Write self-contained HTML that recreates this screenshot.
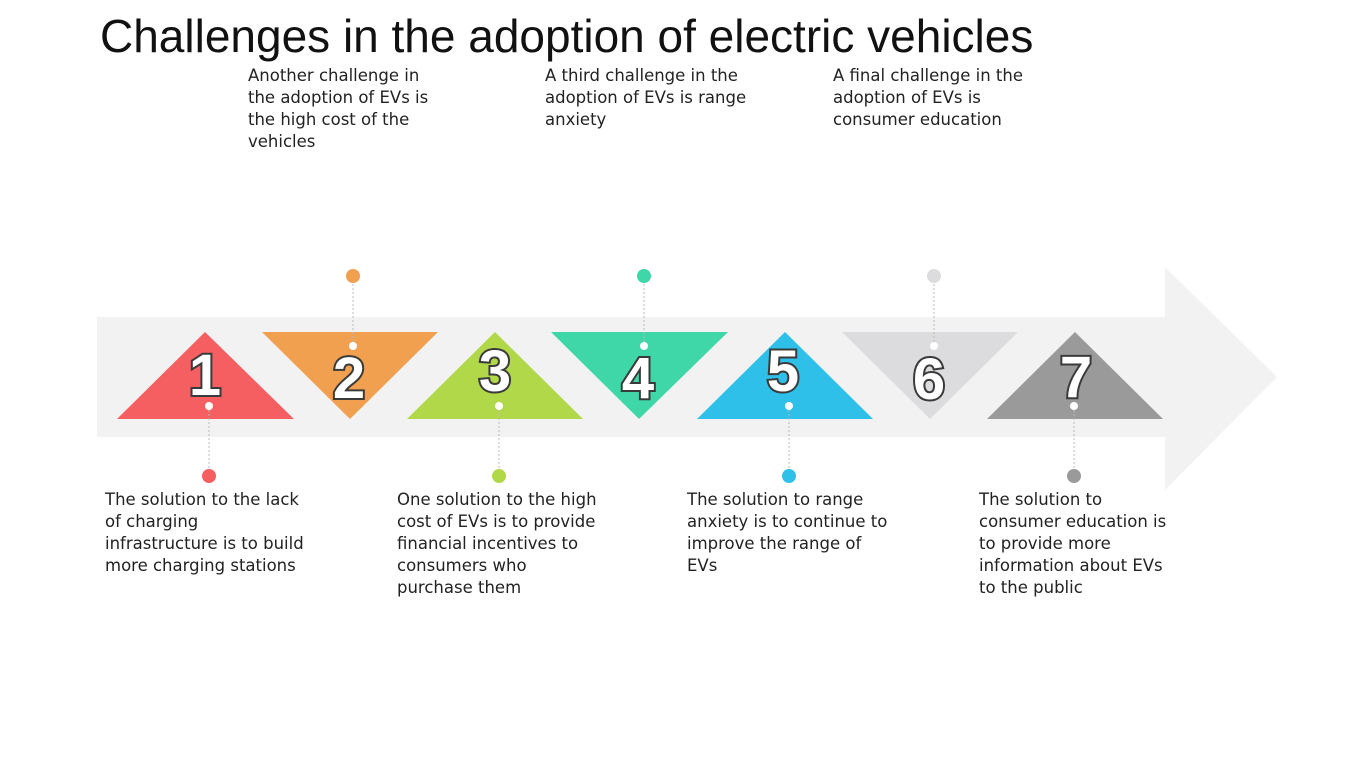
<!DOCTYPE html>
<html><head><style>
body{margin:0;width:1350px;height:759px;background:#fff;position:relative;overflow:hidden;font-family:"Liberation Sans",sans-serif}
.t{position:absolute;left:100px;top:9px;font-size:46px;color:#111;white-space:nowrap}
.p{position:absolute;font-family:"DejaVu Sans","Liberation Sans",sans-serif;font-size:16.5px;line-height:22px;color:#222;white-space:nowrap}
</style></head><body>
<div class="t">Challenges in the adoption of electric vehicles</div>
<svg width="1350" height="759" style="position:absolute;left:0;top:0">
<polygon points="97,317 1165,317 1165,267 1277,377 1165,490 1165,437 97,437" fill="#f2f2f2"/>
<polygon points="117,419 205,332 294,419" fill="#f65f61"/>
<polygon points="262,332 438,332 350,419" fill="#f0a04f"/>
<polygon points="407,419 495,332 583,419" fill="#b1d848"/>
<polygon points="551,332 728,332 639,419" fill="#3fd7a8"/>
<polygon points="697,419 785,332 873,419" fill="#2fc0ea"/>
<polygon points="842,332 1018,332 930,419" fill="#dcdcdf"/>
<polygon points="987,419 1075,332 1163,419" fill="#9a9a9a"/>
<g stroke="#bbb" stroke-width="1" stroke-dasharray="2,2">
<line x1="209" y1="406" x2="209" y2="476"/><line x1="353" y1="276" x2="353" y2="346"/>
<line x1="499" y1="406" x2="499" y2="476"/><line x1="644" y1="276" x2="644" y2="346"/>
<line x1="789" y1="406" x2="789" y2="476"/><line x1="934" y1="276" x2="934" y2="346"/>
<line x1="1074" y1="406" x2="1074" y2="476"/></g>
<g font-family="Liberation Sans" font-weight="bold" font-size="58" fill="#fff" stroke="#3a3a3a" stroke-width="4" paint-order="stroke" text-anchor="middle">
<text x="205" y="395">1</text><text x="349" y="398">2</text><text x="495" y="391">3</text><text x="638" y="398">4</text><text x="783" y="391">5</text><text x="929" y="399">6</text><text x="1076" y="397">7</text></g>
<g fill="#fff"><circle cx="209" cy="406" r="4"/><circle cx="353" cy="346" r="4"/><circle cx="499" cy="406" r="4"/><circle cx="644" cy="346" r="4"/><circle cx="789" cy="406" r="4"/><circle cx="934" cy="346" r="4"/><circle cx="1074" cy="406" r="4"/></g>
<circle cx="209" cy="476" r="7" fill="#f65f61"/><circle cx="353" cy="276" r="7" fill="#f0a04f"/>
<circle cx="499" cy="476" r="7" fill="#b1d848"/><circle cx="644" cy="276" r="7" fill="#3fd7a8"/>
<circle cx="789" cy="476" r="7" fill="#2fc0ea"/><circle cx="934" cy="276" r="7" fill="#dcdcdf"/>
<circle cx="1074" cy="476" r="7" fill="#9a9a9a"/>
</svg>
<div class="p" style="left:248px;top:65px">Another challenge in<br>the adoption of EVs is<br>the high cost of the<br>vehicles</div>
<div class="p" style="left:545px;top:65px">A third challenge in the<br>adoption of EVs is range<br>anxiety</div>
<div class="p" style="left:833px;top:65px">A final challenge in the<br>adoption of EVs is<br>consumer education</div>
<div class="p" style="left:105px;top:489px">The solution to the lack<br>of charging<br>infrastructure is to build<br>more charging stations</div>
<div class="p" style="left:397px;top:489px">One solution to the high<br>cost of EVs is to provide<br>financial incentives to<br>consumers who<br>purchase them</div>
<div class="p" style="left:687px;top:489px">The solution to range<br>anxiety is to continue to<br>improve the range of<br>EVs</div>
<div class="p" style="left:979px;top:489px">The solution to<br>consumer education is<br>to provide more<br>information about EVs<br>to the public</div>
</body></html>
